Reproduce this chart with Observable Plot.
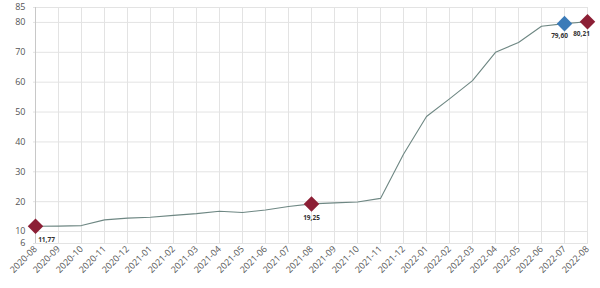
<!DOCTYPE html>
<html><head><meta charset="utf-8">
<script src="https://cdn.jsdelivr.net/npm/d3@7"></script>
<script src="https://cdn.jsdelivr.net/npm/@observablehq/plot@0.6"></script>
<style>body{margin:0;background:#fff;font-family:"Open Sans",sans-serif}</style>
</head><body><div id="chart"></div>
<script>
const months = ["2020-08","2020-09","2020-10","2020-11","2020-12","2021-01","2021-02","2021-03","2021-04","2021-05","2021-06","2021-07","2021-08","2021-09","2021-10","2021-11","2021-12","2022-01","2022-02","2022-03","2022-04","2022-05","2022-06","2022-07","2022-08"];
const values = [11.77,11.8,12.0,13.9,14.5,14.8,15.4,16.0,16.8,16.4,17.2,18.4,19.25,19.6,19.9,21.1,35.9,48.5,54.4,60.5,70.0,73.3,78.7,79.60,80.21];
const yTicks = [6,10,20,30,40,50,60,70,80,85];
const markMonths = ["2020-08","2021-08","2022-07","2022-08"];
const markColors = ["#8c1f35","#8c1f35","#3b7bb8","#8c1f35"];
const markLabels = ["11,77","19,25","79,60","80,21"];
const markDx = [11,0,-5,-6];
const markDy = [14,14,12,12];

const data = months.map((m,i)=>({m, v: values[i]}));
const marks = markMonths.map((m,i)=>({m, v: values[months.indexOf(m)], c: markColors[i], t: markLabels[i], dx: markDx[i], dy: markDy[i]}));

const chart = Plot.plot({
  width: 600, height: 288,
  marginLeft: 33, marginRight: 12, marginTop: 7, marginBottom: 45,
  style: {fontFamily: "Open Sans, sans-serif", fontSize: "9px", color: "#555"},
  x: {type: "point", domain: months, padding: 0, label: null, tickSize: 0, tickRotate: -45, tickPadding: 4},
  y: {domain: [6,85], ticks: yTicks, label: null, tickSize: 0, tickPadding: 8},
  marks: [
    Plot.gridX(months, {stroke: "#e3e3e3", strokeOpacity: 1}),
    Plot.gridY(yTicks, {stroke: "#e3e3e3", strokeOpacity: 1}),
    Plot.ruleX([months[0]], {stroke: "#c8c8c8"}),
    Plot.line(data, {x: "m", y: "v", stroke: "#6e8783", strokeWidth: 1.1}),
    Plot.dot(marks, {x: "m", y: "v", fill: "c", symbol: "diamond2", r: 7, stroke: "none"}),
    ...marks.map(d => Plot.text([d], {x: "m", y: "v", text: "t", dx: d.dx, dy: d.dy, fontSize: 6.5, fontWeight: "bold", fill: "#333"}))
  ]
});
document.getElementById("chart").append(chart);
</script></body></html>
